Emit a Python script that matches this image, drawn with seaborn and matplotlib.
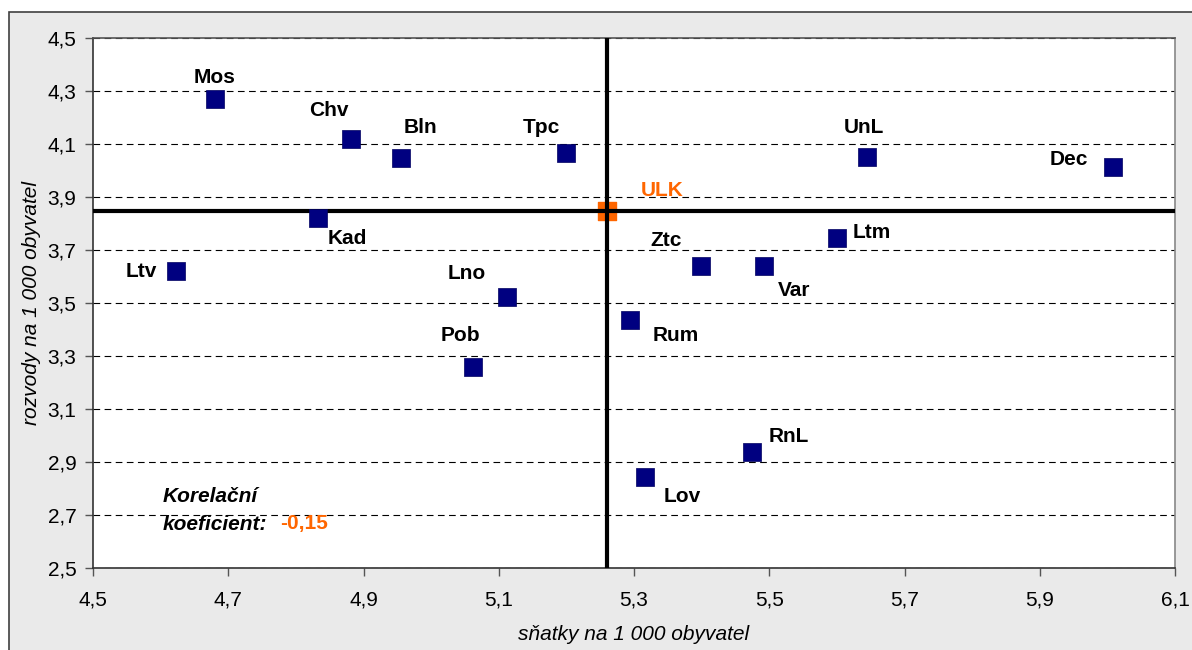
import matplotlib
matplotlib.use("Agg")
import matplotlib.pyplot as plt
import seaborn as sns
import pandas as pd
from matplotlib.patches import Rectangle
from matplotlib.ticker import FuncFormatter, FixedLocator

names = ["Mos", "Chv", "Bln", "Tpc", "UnL", "Dec", "Kad", "Ltm", "Ltv", "Ztc",
         "Var", "Lno", "Rum", "Pob", "RnL", "Lov"]
snatky = [4.68, 4.882, 4.956, 5.20, 5.644, 6.008, 4.832, 5.60, 4.6225, 5.399,
          5.492, 5.1125, 5.294, 5.062, 5.474, 5.316]
rozvody = [4.27, 4.12, 4.048, 4.067, 4.052, 4.014, 3.822, 3.747, 3.619, 3.641,
           3.641, 3.521, 3.434, 3.257, 2.937, 2.843]
ulk_name = "ULK"
ulk_x = 5.26
ulk_y = 3.848
korel = "-0,15"
x_ticks = [4.5, 4.7, 4.9, 5.1, 5.3, 5.5, 5.7, 5.9, 6.1]
y_ticks = [2.5, 2.7, 2.9, 3.1, 3.3, 3.5, 3.7, 3.9, 4.1, 4.3, 4.5]

# label offsets in pixels (dx, dy)
offsets = {
    "Mos": (0, 21), "Chv": (-22, 28), "Bln": (19, 30), "Tpc": (-25, 25),
    "UnL": (-3, 29), "Dec": (-44, 7), "Kad": (30, -21), "Ltm": (35, 5),
    "Ltv": (-35, 0), "Ztc": (-35, 25), "Var": (30, -25), "Lno": (-40, 24),
    "Rum": (46, -15), "Pob": (-13, 32), "RnL": (37, 16), "Lov": (37, -19),
}

df = pd.DataFrame({"snatky": snatky, "rozvody": rozvody, "name": names})

sns.set_style("white")
plt.rcParams["font.family"] = ["Liberation Sans", "DejaVu Sans"]
plt.rcParams["text.color"] = "black"
plt.rcParams["axes.labelcolor"] = "black"
plt.rcParams["xtick.color"] = "black"
plt.rcParams["ytick.color"] = "black"

FS = 15

fig = plt.figure(figsize=(11.92, 6.5), dpi=100, facecolor="white")
fig.patches.append(Rectangle((9 / 1192, -0.1), 1.2, 1 - 12 / 650 + 0.1,
                             transform=fig.transFigure, facecolor="#eaeaea",
                             edgecolor="#404040", linewidth=1.2, zorder=-10))
ax = fig.add_axes([93 / 1192, 1 - 568 / 650, (1175 - 93) / 1192, (568 - 38) / 650])
ax.set_facecolor("white")

ax.set_xlim(x_ticks[0], x_ticks[-1])
ax.set_ylim(y_ticks[0], y_ticks[-1])
ax.xaxis.set_major_locator(FixedLocator(x_ticks))
ax.yaxis.set_major_locator(FixedLocator(y_ticks))
fmt = FuncFormatter(lambda v, p: f"{v:.1f}".replace(".", ","))
ax.xaxis.set_major_formatter(fmt)
ax.yaxis.set_major_formatter(fmt)

ax.grid(axis="y", color="black", linestyle=(0, (6, 4)), linewidth=0.8)
ax.set_axisbelow(True)

ax.axvline(ulk_x, color="black", linewidth=3, zorder=4)
ax.axhline(ulk_y, color="black", linewidth=3, zorder=4)

sns.scatterplot(data=df, x="snatky", y="rozvody", marker="s", s=175,
                color="#000080", edgecolor="#000060", linewidth=0.5, ax=ax,
                zorder=5, legend=False)
ax.scatter([ulk_x], [ulk_y], marker="s", s=160, color="#ff6600",
           edgecolor="#ff6600", zorder=3)

for n, x, y in zip(names, snatky, rozvody):
    dx, dy = offsets[n]
    ax.annotate(n, (x, y), xytext=(dx, dy), textcoords="offset pixels",
                ha="center", va="center", fontsize=FS, fontweight="bold",
                color="black", zorder=6)
ax.annotate(ulk_name, (ulk_x, ulk_y), xytext=(55, 20), textcoords="offset pixels",
            ha="center", va="center", fontsize=FS, fontweight="bold",
            color="#ff6600", zorder=6)

ax.text(163, 650 - 497, "Korelační", transform=None, fontsize=FS,
        fontweight="bold", style="italic", ha="left", va="center")
ax.text(163, 650 - 524, "koeficient:", transform=None, fontsize=FS,
        fontweight="bold", style="italic", ha="left", va="center")
ax.text(280, 650 - 524, korel, transform=None, fontsize=FS,
        fontweight="bold", color="#ff6600", ha="left", va="center")

ax.set_xlabel("sňatky na 1 000 obyvatel", fontsize=FS, style="italic",
              labelpad=11)
ax.set_ylabel("rozvody na 1 000 obyvatel", fontsize=FS, style="italic",
              labelpad=5)
ax.tick_params(axis="x", pad=10)
ax.tick_params(axis="y", pad=6)
ax.tick_params(axis="both", which="major", labelsize=FS, direction="out",
               length=6, width=1, color="#555555", left=True, bottom=True)
for s in ax.spines.values():
    s.set_color("#333333")
    s.set_linewidth(1.2)
ax.spines["right"].set_color("#888888")
ax.spines["top"].set_color("#555555")

fig.savefig("out.png", dpi=100, facecolor=fig.get_facecolor())
